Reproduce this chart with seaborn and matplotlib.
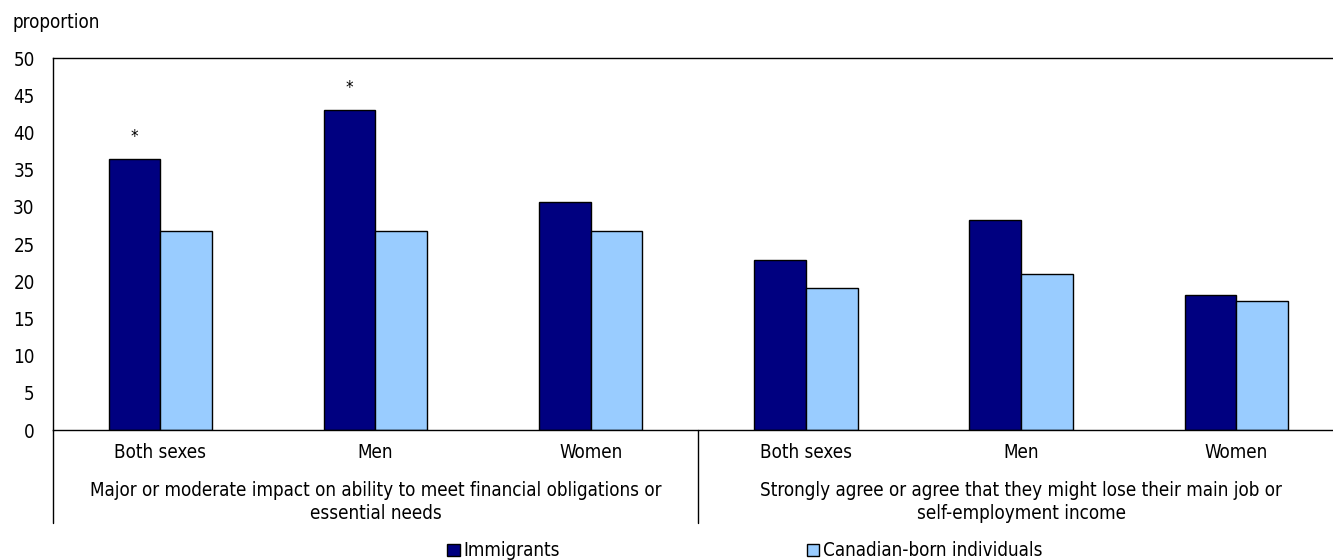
"""Proportion of immigrants vs Canadian-born individuals, grouped bar chart."""

import pandas as pd
import matplotlib
matplotlib.use("Agg")
import matplotlib.pyplot as plt
from matplotlib.patches import Patch
from matplotlib import font_manager as fm
import seaborn as sns

# data
sexes = ["Both sexes", "Men", "Women", "Both sexes", "Men", "Women"]
groups = [
    "Major or moderate impact on ability to meet financial obligations or\nessential needs",
    "Strongly agree or agree that they might lose their main job or\nself-employment income",
]
immigrants = [36.4, 43.0, 30.7, 22.9, 28.2, 18.2]
canadian_born = [26.7, 26.7, 26.8, 19.1, 21.0, 17.4]
significant = [True, True, False, False, False, False]
series_names = ["Immigrants", "Canadian-born individuals"]
colors = ["#000080", "#99CCFF"]

sns.set_style("white")

# the reference uses a condensed grotesque: take the narrowest one we have
def pick_font():
    try:
        fm.findfont(fm.FontProperties(family="Liberation Sans Narrow"), fallback_to_default=False)
        return ["Liberation Sans Narrow", "DejaVu Sans"], "normal", 15
    except ValueError:
        pass
    path = fm.findfont(fm.FontProperties(family="DejaVu Sans", stretch="condensed"))
    if "Condensed" in path:
        return ["DejaVu Sans", "DejaVu Sans"], "condensed", 13.5
    return ["Liberation Sans", "DejaVu Sans"], "normal", 13.5

family, stretch, FS = pick_font()
plt.rcParams["font.family"] = family
plt.rcParams["font.stretch"] = stretch
for k in ["text.color", "xtick.color", "ytick.color", "axes.labelcolor"]:
    plt.rcParams[k] = "black"

keys = [f"c{i}" for i in range(len(sexes))]
df = pd.DataFrame({
    "key": keys * 2,
    "value": immigrants + canadian_born,
    "series": [series_names[0]] * len(keys) + [series_names[1]] * len(keys),
})

fig = plt.figure(figsize=(13.33, 5.6), dpi=100)
W, H = 1333, 560
x0, y0, y1 = 52.7, 430, 58
step = 215.2
ax = fig.add_axes([x0 / W, (H - y0) / H, step * 6 / W, (y0 - y1) / H])

sns.barplot(
    data=df, x="key", y="value", hue="series", order=keys,
    hue_order=series_names, palette=colors, saturation=1, width=0.48, gap=0,
    edgecolor="black", linewidth=1, ax=ax, legend=False,
)
ax.set_xlim(-0.5, 5.5)
ax.set_ylim(0, 50)
ax.set_yticks(range(0, 51, 5))
ax.tick_params(axis="y", direction="in", length=5, width=1, pad=13, labelsize=FS)
ax.tick_params(axis="x", length=0, pad=9, labelsize=FS)
ax.set_xticks(range(len(keys)))
ax.set_xticklabels(sexes)
ax.set_xlabel("")
ax.set_ylabel("")
for s in ["left", "bottom", "top"]:
    ax.spines[s].set_visible(True)
    ax.spines[s].set_color("black")
    ax.spines[s].set_linewidth(1)

# significance stars over immigrant bars
for i, (v, sig) in enumerate(zip(immigrants, significant)):
    if sig:
        ax.text(i - 0.12, v + 1.8, "*", ha="center", va="bottom", fontsize=12)

# group separators below the axis
for xs in [-0.5, 2.5, 5.5]:
    ax.plot([xs, xs], [0, -0.25], transform=ax.get_xaxis_transform(),
            color="black", lw=1, clip_on=False)

# group labels
for gi, label in enumerate(groups):
    ax.text(gi * 3 + 1, -0.138, label, transform=ax.get_xaxis_transform(),
            ha="center", va="top", fontsize=FS, linespacing=1.25)

fig.text(13 / W, 1 - 22 / H, "proportion", ha="left", va="center", fontsize=FS)

handles = [Patch(facecolor=c, edgecolor="black", linewidth=1) for c in colors]
fig.legend(handles, series_names, loc="center", bbox_to_anchor=(745 / W, 1 - 551 / H),
           ncol=2, frameon=False, fontsize=FS, handlelength=0.65, handleheight=0.65,
           handletextpad=0.2, columnspacing=13.2, borderaxespad=0, borderpad=0)

fig.savefig("out.png", dpi=100)
